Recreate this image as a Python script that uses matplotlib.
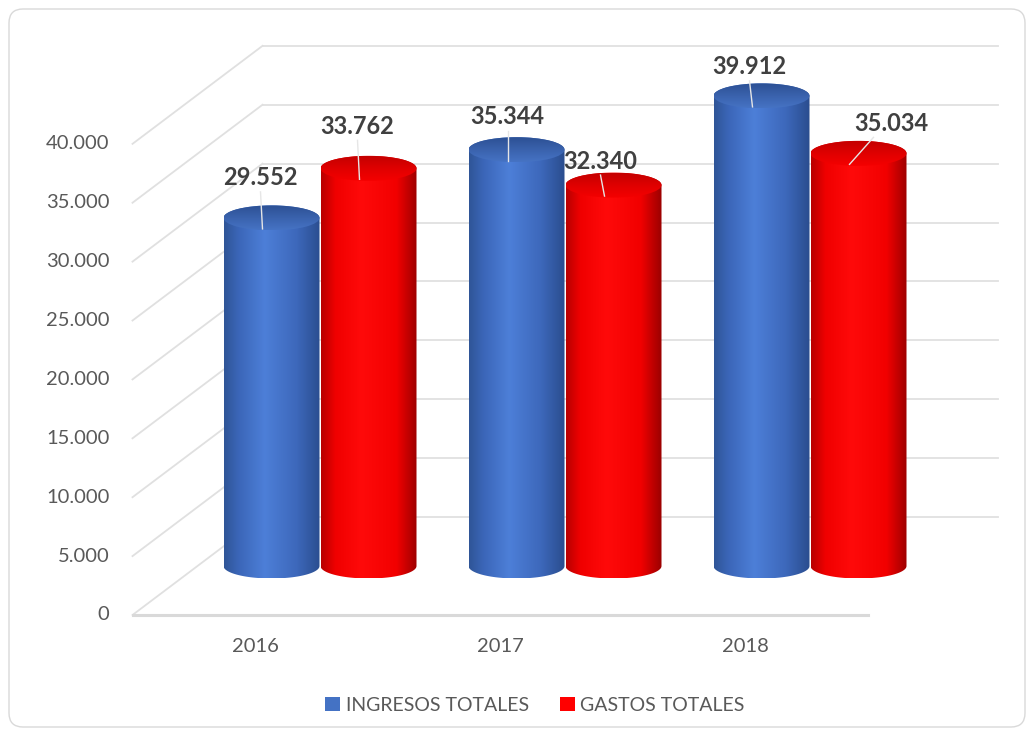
import numpy as np
import matplotlib.pyplot as plt
from matplotlib.patches import Ellipse, FancyBboxPatch, Patch, PathPatch
from matplotlib.path import Path
from matplotlib.colors import LinearSegmentedColormap

plt.rcParams['font.family'] = ['Lato', 'DejaVu Sans']

# datos
years = ['2016', '2017', '2018']
ingresos = [29552, 35344, 39912]
gastos = [33762, 32340, 35034]
series_names = ['INGRESOS TOTALES', 'GASTOS TOTALES']
y_ticks = [0, 5000, 10000, 15000, 20000, 25000, 30000, 35000, 40000]

# desplazamiento de las etiquetas (px) respecto a la tapa del cilindro
label_offsets = [[(-11, -40), (-9, -33), (-12, -29)],
                 [(-11, -42), (-13, -24), (33, -30)]]

PX = 245.0   # px por categoria
S = 84.9     # unidades de valor por px


def px(d):
    return d / PX


def py(d):
    # d en px hacia abajo
    return -d * S


def fmt(v):
    return f"{v:,}".replace(',', '.')


fig = plt.figure(figsize=(10.33, 7.36), dpi=100)
ax = fig.add_axes([0, 0, 1, 1])
ax.axis('off')
xlim = (-255 / PX, (1033 - 255) / PX)
ylim = (-(736 - 615) * S, 615 * S)

# profundidad del grafico 3D
DX = px(130)
DY = 98 * S
grid_c = '#e0e0e0'

# lineas de division (pared lateral + pared del fondo)
for v in y_ticks:
    ax.plot([-0.5, -0.5 + DX], [v, v + DY], color=grid_c, lw=1.3, zorder=1)
    ax.plot([-0.5 + DX, 2.5 + DX], [v + DY, v + DY], color=grid_c, lw=1.3, zorder=1)
    ax.text(-0.5 - px(23), v, fmt(v), ha='right', va='center',
            fontsize=14.5, color='#595959')
ax.plot([-0.5, 2.5], [0, 0], color='#d9d9d9', lw=2.2, zorder=1)

for i, y in enumerate(years):
    ax.text(i, py(31), y, ha='center', va='center', fontsize=14.5, color='#595959')

# cilindros
cmaps = [
    LinearSegmentedColormap.from_list('az', [(0, '#2f5597'), (0.15, '#3b66b8'), (0.42, '#4d7fd8'),
                                             (0.75, '#3d68bb'), (1, '#2a4d8e')]),
    LinearSegmentedColormap.from_list('ro', [(0, '#b80000'), (0.15, '#f00000'), (0.42, '#ff0a0a'),
                                             (0.78, '#f20000'), (1, '#9a0000')]),
]
top_cmaps = [
    LinearSegmentedColormap.from_list('az_t', ['#4673c4', '#3a62ad', '#2c5094']),
    LinearSegmentedColormap.from_list('ro_t', ['#f50000', '#e00000', '#c40000']),
]
spacing = px(97)
w = px(96)
eh = 12.5 * S
grad = np.linspace(0, 1, 256).reshape(1, -1)
vgrad = np.linspace(1, 0, 128).reshape(-1, 1)

for s, vals in enumerate([ingresos, gastos]):
    for i, v in enumerate(vals):
        cx = i + (s - 0.5) * spacing + DX / 2
        base = DY / 2
        top = base + v
        z = 3 + i * 2 + s * 0.5
        t1 = np.linspace(np.pi, 2 * np.pi, 60)
        t2 = np.linspace(0, np.pi, 60)
        xs = np.concatenate([cx + w / 2 * np.cos(t1), cx + w / 2 * np.cos(t2)])
        ys = np.concatenate([base + eh * np.sin(t1), top + eh * np.sin(t2)])
        verts = np.column_stack([xs, ys])
        verts = np.vstack([verts, verts[:1]])
        clip = PathPatch(Path(verts, closed=True), facecolor='none', edgecolor='none',
                         transform=ax.transData)
        ax.add_patch(clip)
        im = ax.imshow(grad, cmap=cmaps[s], aspect='auto', zorder=z,
                       extent=[cx - w / 2, cx + w / 2, base - eh, top + eh])
        im.set_clip_path(clip)

        # tapa superior con degradado
        tap = Ellipse((cx, top), w, 2 * eh, facecolor='none', edgecolor='none')
        ax.add_patch(tap)
        im2 = ax.imshow(vgrad, cmap=top_cmaps[s], aspect='auto', zorder=z + 0.1,
                        extent=[cx - w / 2, cx + w / 2, top - eh, top + eh])
        im2.set_clip_path(tap)

        # etiqueta de datos con linea guia
        ox, oy = label_offsets[s][i]
        lx, ly = cx + px(ox), top + py(oy)
        ax.text(lx, ly, fmt(v), ha='center', va='center', fontsize=17,
                fontweight='bold', color='#404040', zorder=20)
        sx = lx if abs(ox) < 20 else lx - px(18)
        ax.plot([sx, cx + px(-9)], [ly + py(14), top + py(11)],
                color='#e6e6e6', lw=1, zorder=z + 0.2)

ax.set_xlim(*xlim)
ax.set_ylim(*ylim)

# leyenda
handles = [Patch(facecolor='#4472c4'), Patch(facecolor='#ff0000')]
fig.legend(handles, series_names, loc='center', bbox_to_anchor=(0.518, 0.042), ncol=2,
           frameon=False, fontsize=14, handlelength=0.75, handleheight=0.75,
           handletextpad=0.3, columnspacing=1.6, labelcolor='#595959')

# marco redondeado
frame = FancyBboxPatch((9, 9), 1016, 718, boxstyle='round,pad=0,rounding_size=14',
                       facecolor='none', edgecolor='#d9d9d9', lw=1, transform=None)
fig.add_artist(frame)

fig.savefig('out.png', dpi=100)
